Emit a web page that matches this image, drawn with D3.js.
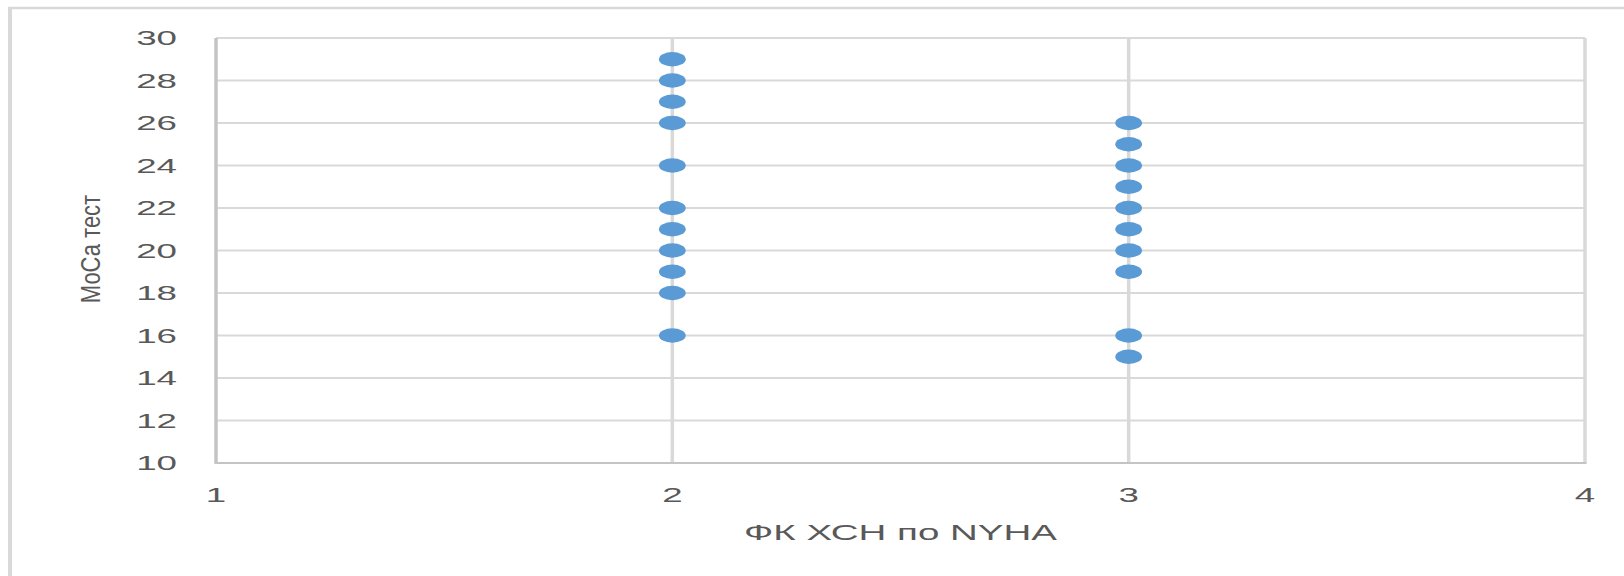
<!DOCTYPE html>
<html>
<head>
<meta charset="utf-8">
<script src="https://cdn.jsdelivr.net/npm/d3@7"></script>
<style>
  html, body { margin: 0; padding: 0; background: #ffffff; }
  svg { display: block; }
  text { font-family: "Liberation Sans", Arial, sans-serif; fill: #595959; }
</style>
</head>
<body>
<svg id="chart" width="1624" height="576"></svg>
<script>
// ---- data ----
const xTicks = [1, 2, 3, 4];
const yTicks = [10, 12, 14, 16, 18, 20, 22, 24, 26, 28, 30];
const nyhaClass = [2, 2, 2, 2, 2, 2, 2, 2, 2, 2, 2, 3, 3, 3, 3, 3, 3, 3, 3, 3, 3];
const mocaScore = [29, 28, 27, 26, 24, 22, 21, 20, 19, 18, 16, 26, 25, 24, 23, 22, 21, 20, 19, 16, 15];
const xTitle = "ФК ХСН по NYHA";
const yTitle = "МоСа тест";

// ---- layout ----
const svg = d3.select("#chart");
const W = 1624, H = 576;
const plot = { left: 216, right: 1585, top: 38, bottom: 463 };
const stretch = 1.75;

const x = d3.scaleLinear().domain([1, 4]).range([plot.left, plot.right]);
const y = d3.scaleLinear().domain([10, 30]).range([plot.bottom, plot.top]);

// outer chart border (left and top visible)
svg.append("line").attr("x1", 10).attr("x2", 10).attr("y1", 7).attr("y2", H)
  .attr("stroke", "#d9d9d9").attr("stroke-width", 4);
svg.append("line").attr("x1", 8).attr("x2", W).attr("y1", 8).attr("y2", 8)
  .attr("stroke", "#d9d9d9").attr("stroke-width", 2.5);

// horizontal gridlines
svg.append("g").selectAll("line").data(yTicks).join("line")
  .attr("x1", plot.left).attr("x2", plot.right)
  .attr("y1", d => y(d)).attr("y2", d => y(d))
  .attr("stroke", "#d9d9d9").attr("stroke-width", 2);

// vertical gridlines
svg.append("g").selectAll("line").data(xTicks).join("line")
  .attr("x1", d => x(d)).attr("x2", d => x(d))
  .attr("y1", plot.top).attr("y2", plot.bottom)
  .attr("stroke", d => (d === 1 ? "#c4c4c4" : "#d9d9d9"))
  .attr("stroke-width", 3.5);

// bottom axis line
svg.append("line").attr("x1", plot.left - 1.5).attr("x2", plot.right + 1.5)
  .attr("y1", plot.bottom).attr("y2", plot.bottom)
  .attr("stroke", "#c4c4c4").attr("stroke-width", 2);

// y tick labels
svg.append("g").selectAll("text").data(yTicks).join("text")
  .attr("transform", d => `translate(177,${y(d)}) scale(${stretch},1)`)
  .attr("text-anchor", "end").attr("dominant-baseline", "central")
  .style("font-size", "21px")
  .text(d => d);

// x tick labels
svg.append("g").selectAll("text").data(xTicks).join("text")
  .attr("transform", d => `translate(${x(d)},502) scale(${stretch},1)`)
  .attr("text-anchor", "middle")
  .style("font-size", "21px")
  .text(d => d);

// axis titles
svg.append("text")
  .attr("transform", `translate(${(plot.left + plot.right) / 2},540) scale(${stretch},1)`)
  .attr("text-anchor", "middle")
  .style("font-size", "22px")
  .text(xTitle);

svg.append("text")
  .attr("transform", `translate(100,249) scale(1.27,1) rotate(-90)`)
  .attr("text-anchor", "middle")
  .style("font-size", "22px")
  .text(yTitle);

// points
const pts = nyhaClass.map((c, i) => ({ c, v: mocaScore[i] }));
svg.append("g").selectAll("ellipse").data(pts).join("ellipse")
  .attr("cx", d => x(d.c)).attr("cy", d => y(d.v))
  .attr("rx", 13.4).attr("ry", 7.2)
  .attr("fill", "#5b9bd5");
</script>
</body>
</html>
